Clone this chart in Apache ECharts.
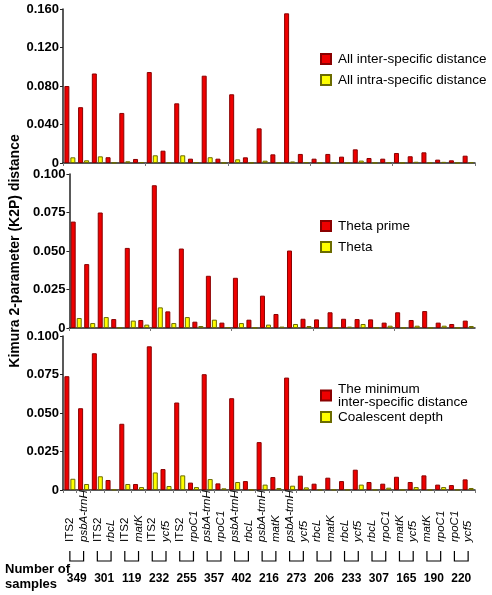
<!DOCTYPE html>
<html><head><meta charset="utf-8">
<script src="https://cdn.jsdelivr.net/npm/echarts@6/dist/echarts.min.js"></script>
<style>html,body{margin:0;padding:0;background:#fff}#c{width:492px;height:595px}</style>
</head><body><div id="c"></div>
<script>
const categories = ['ITS2','psbA-trnH','ITS2','rbcL','ITS2','matK','ITS2','ycf5','ITS2','rpoC1','psbA-trnH','rpoC1','psbA-trnH','rbcL','psbA-trnH','matK','psbA-trnH','ycf5','rbcL','matK','rbcL','ycf5','rbcL','rpoC1','matK','ycf5','matK','rpoC1','rpoC1','ycf5'];

const interAll = [0.080,0.058,0.093,0.006,0.052,0.0042,0.0945,0.0128,0.062,0.0045,0.0907,0.0045,0.0714,0.0059,0.036,0.009,0.1555,0.0094,0.0045,0.0094,0.0066,0.0142,0.0052,0.0045,0.0104,0.007,0.0111,0.0035,0.0028,0.0076];
const intraAll = [0.0059,0.0028,0.0069,0.0003,0.0018,0.001,0.008,0.0008,0.008,0.001,0.006,0.0002,0.0038,0.0003,0.0024,0.0005,0.0016,0.0009,0.0002,0.0002,0.0002,0.0025,0.0002,0.0008,0.0002,0.0013,0.0002,0.0012,0.0002,0.0008];

const thetaPrime = [0.0691,0.0415,0.075,0.0058,0.052,0.0052,0.0927,0.0108,0.0516,0.0041,0.0339,0.0035,0.0326,0.0054,0.021,0.0091,0.0503,0.006,0.0056,0.0102,0.006,0.0058,0.0056,0.0035,0.0102,0.0052,0.011,0.0035,0.0026,0.0048];
const theta = [0.0065,0.0032,0.0071,0.0002,0.0048,0.0022,0.0134,0.0032,0.0071,0.0013,0.0054,0.0006,0.0032,0.0002,0.0022,0.0009,0.0026,0.0013,0.0002,0.0002,0.0009,0.0026,0.0002,0.0015,0.0002,0.0015,0.0002,0.0015,0.0002,0.0013];

const minInter = [0.0739,0.0531,0.0888,0.0065,0.043,0.0039,0.0933,0.0136,0.0568,0.0048,0.0752,0.0043,0.0596,0.0058,0.0311,0.0084,0.073,0.0093,0.0041,0.008,0.0058,0.0132,0.0052,0.0041,0.0086,0.0052,0.0095,0.0035,0.0032,0.0069];
const coalescent = [0.0073,0.0039,0.0089,0.0003,0.0039,0.0019,0.0114,0.0026,0.0095,0.0019,0.0071,0.0011,0.0052,0.0003,0.0035,0.0013,0.0028,0.0017,0.0003,0.0003,0.0003,0.0035,0.0003,0.0015,0.0003,0.0019,0.0003,0.0019,0.0003,0.0013];

const sampleNumbers = [349,301,119,232,255,357,402,216,273,206,233,307,165,190,220];

const seriesNames = [
  ['All inter-specific distance','All intra-specific distance'],
  ['Theta prime','Theta'],
  ['The minimum\ninter-specific distance','Coalescent depth']
];
const yMax = [0.16, 0.1, 0.1];
const yInterval = [0.04, 0.025, 0.025];

const FONT = '"Liberation Sans", Arial, sans-serif';
const grids = [
  {left:63, right:17, top:9, height:154},
  {left:63, right:17, top:174, height:154},
  {left:63, right:17, top:336, height:154}
];
const axisColor = '#222';

const xAxes = grids.map((g,i)=>({
  type:'category', gridIndex:i, data:categories,
  axisLine:{lineStyle:{color:axisColor,width:1.5}},
  axisTick:{show:true,length:3,lineStyle:{color:'#777'}},
  axisLabel: i<2 ? {show:false} : {
    show:true, interval:0, rotate:90, align:'left', margin:52,
    fontFamily:FONT, color:'#000',
    formatter: v => v==='ITS2' ? '{n|ITS2}' : '{i|'+v+'}',
    rich:{
      n:{fontSize:11.5, fontFamily:FONT, color:'#000'},
      i:{fontSize:11.5, fontFamily:FONT, fontStyle:'italic', color:'#000'}
    }
  }
}));

const yAxes = grids.map((g,i)=>({
  type:'value', gridIndex:i, min:0, max:yMax[i], interval:yInterval[i],
  axisLine:{show:true,lineStyle:{color:axisColor,width:1.5}},
  axisTick:{show:true,length:3,lineStyle:{color:axisColor}},
  splitLine:{show:false},
  axisLabel:{fontFamily:FONT,fontSize:13,fontWeight:'bold',color:'#000',margin:4,
    formatter:v=> v===0 ? '0' : v.toFixed(3)},
  name: i===1 ? 'Kimura 2-parameter (K2P) distance' : '',
  nameLocation:'middle', nameGap:40,
  nameTextStyle:{fontFamily:FONT,fontSize:14,fontWeight:'bold',color:'#000'}
}));

const redStyle = {color:'#ee0000', borderColor:'#8a0000', borderWidth:1};
const yelStyle = {color:'#ffff00', borderColor:'#6b6b00', borderWidth:1};
const dataSets = [[interAll,intraAll],[thetaPrime,theta],[minInter,coalescent]];

const series = [];
dataSets.forEach((pair,i)=>{
  series.push({type:'bar', name:seriesNames[i][0], xAxisIndex:i, yAxisIndex:i, data:pair[0],
    barWidth:5, barGap:'20%', itemStyle:redStyle});
  series.push({type:'bar', name:seriesNames[i][1], xAxisIndex:i, yAxisIndex:i, data:pair[1],
    barWidth:5, barGap:'20%', itemStyle:yelStyle});
});

// brackets with sample counts under the bottom axis
const bracketData = sampleNumbers.map((n,k)=>[2*k, 2*k+1, 0, n]);
series.push({
  type:'custom', xAxisIndex:2, yAxisIndex:2, clip:false, silent:true,
  encode:{x:[0,1], y:2},
  data: bracketData,
  renderItem:(params, api)=>{
    const p1 = api.coord([api.value(0), 0]);
    const p2 = api.coord([api.value(1), 0]);
    const y0 = p1[1];
    return {type:'group', children:[
      {type:'polyline', shape:{points:[[p1[0],y0+61],[p1[0],y0+71],[p2[0],y0+71],[p2[0],y0+61]]},
       style:{stroke:'#000', lineWidth:1.2, fill:null}},
      {type:'text', style:{text:String(api.value(3)), x:(p1[0]+p2[0])/2, y:y0+89,
        align:'center', verticalAlign:'middle', font:'bold 12px '+FONT, fill:'#000'}}
    ]};
  }
});

const legendBase = {
  orient:'vertical', left:315, icon:'rect', itemWidth:10, itemHeight:10,
  itemGap:7, textStyle:{fontFamily:FONT,fontSize:13.5,color:'#000',padding:[0,0,0,2]},
  selectedMode:false
};

const option = {
  animation:false,
  backgroundColor:'#fff',
  grid: grids,
  xAxis: xAxes,
  yAxis: yAxes,
  legend:[
    Object.assign({}, legendBase, {top:47, data:seriesNames[0]}),
    Object.assign({}, legendBase, {top:214, data:seriesNames[1]}),
    Object.assign({}, legendBase, {top:377, itemGap:1, data:seriesNames[2],
      textStyle:{fontFamily:FONT,fontSize:13.5,color:'#000',lineHeight:13,padding:[0,0,0,2]}})
  ],
  graphic:[
    {type:'text', left:5, top:562, style:{text:'Number of\nsamples', font:'bold 13px '+FONT, fill:'#000', lineHeight:15}}
  ],
  series: series
};

const chart = echarts.init(document.getElementById('c'), null, {renderer:'canvas'});
chart.setOption(option);
</script></body></html>
